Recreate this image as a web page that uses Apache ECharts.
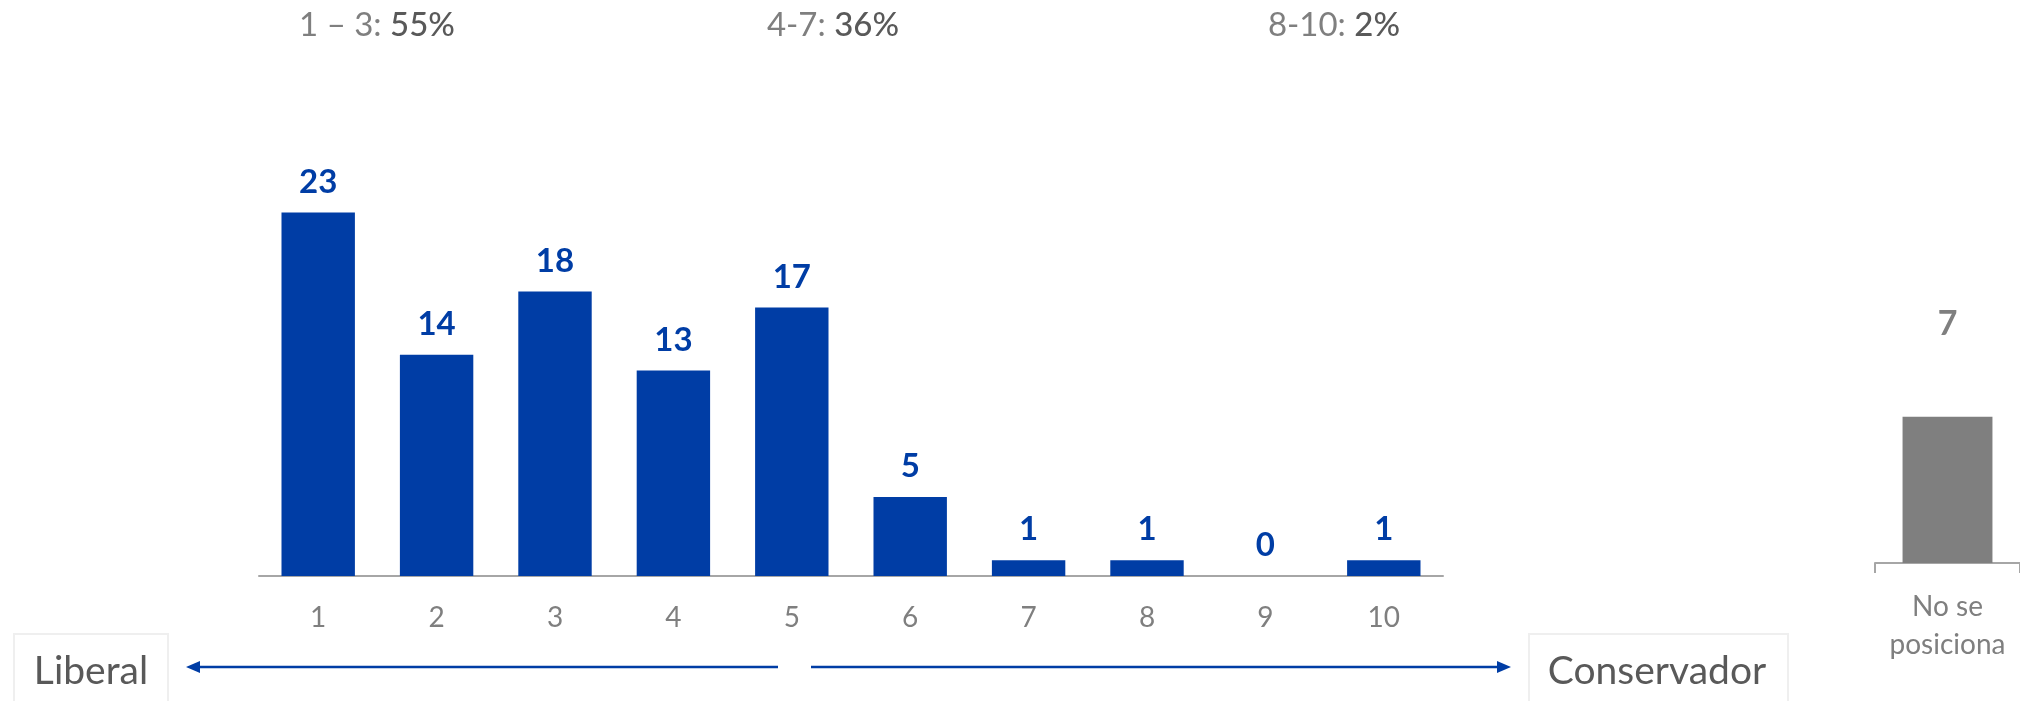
<!DOCTYPE html>
<html>
<head>
<meta charset="utf-8">
<script src="https://cdn.jsdelivr.net/npm/echarts@6/dist/echarts.min.js"></script>
<style>
html,body{margin:0;padding:0;background:#fff;}
#c{width:2020px;height:701px;}
</style>
</head>
<body>
<div id="c"></div>
<script>
// ---- data ----
const scaleCategories = ['1','2','3','4','5','6','7','8','9','10'];
const scaleValues = [23, 14, 18, 13, 17, 5, 1, 1, 0, 1];
const noPosCategories = ['No se\nposiciona'];
const noPosValues = [7];
const groupLabels = ['1 – 3: ', '4-7: ', '8-10: '];
const groupPercents = ['55%', '36%', '2%'];
const leftEndLabel = 'Liberal';
const rightEndLabel = 'Conservador';

const FONT = 'Lato, "Open Sans", sans-serif';
const BLUE = '#003DA5';
const GREY = '#7F7F7F';
const DARK = '#595959';

const chart = echarts.init(document.getElementById('c'), null, {renderer: 'canvas'});

const groupX = [377, 833, 1334];
const topTexts = groupLabels.map((g, i) => ({
  type: 'text',
  x: groupX[i], y: 25,
  style: {
    text: '{a|' + g + '}{b|' + groupPercents[i] + '}',
    align: 'center', verticalAlign: 'middle',
    rich: {
      a: {fontFamily: FONT, fontSize: 33, fill: GREY},
      b: {fontFamily: FONT, fontSize: 33, fill: DARK, fontWeight: 500}
    }
  }
}));

const arrowY = 667;
const graphics = topTexts.concat([
  // left arrow
  {type: 'line', shape: {x1: 778, y1: arrowY, x2: 196, y2: arrowY}, style: {stroke: BLUE, lineWidth: 2.5}},
  {type: 'polygon', shape: {points: [[186, arrowY], [200, arrowY - 6], [200, arrowY + 6]]}, style: {fill: BLUE}},
  // right arrow
  {type: 'line', shape: {x1: 811, y1: arrowY, x2: 1500, y2: arrowY}, style: {stroke: BLUE, lineWidth: 2.5}},
  {type: 'polygon', shape: {points: [[1511, arrowY], [1497, arrowY - 6], [1497, arrowY + 6]]}, style: {fill: BLUE}},
  // end boxes
  {type: 'rect', shape: {x: 14, y: 634, width: 154, height: 80}, style: {fill: '#fff', stroke: '#EFEFEF', lineWidth: 2}},
  {type: 'text', x: 91, y: 671, style: {text: leftEndLabel, fontFamily: FONT, fontSize: 39, fill: DARK, align: 'center', verticalAlign: 'middle'}},
  {type: 'rect', shape: {x: 1529, y: 634, width: 259, height: 80}, style: {fill: '#fff', stroke: '#EFEFEF', lineWidth: 2}},
  {type: 'text', x: 1657, y: 671, style: {text: rightEndLabel, fontFamily: FONT, fontSize: 39, fill: DARK, align: 'center', verticalAlign: 'middle'}}
]);

const option = {
  backgroundColor: '#fff',
  animation: false,
  textStyle: {fontFamily: FONT},
  grid: [
    {left: 259, width: 1184, top: 102, height: 474, containLabel: false},
    {left: 1875, width: 146, top: 354, height: 209, containLabel: false}
  ],
  xAxis: [
    {
      type: 'category', gridIndex: 0, data: scaleCategories,
      axisLine: {show: true, lineStyle: {color: '#A6A6A6', width: 2}},
      axisTick: {show: false},
      axisLabel: {color: GREY, fontSize: 28, fontFamily: FONT, margin: 28}
    },
    {
      type: 'category', gridIndex: 1, data: noPosCategories,
      axisLine: {show: true, lineStyle: {color: '#A6A6A6', width: 2}},
      axisTick: {show: true, length: 10, lineStyle: {color: '#A6A6A6', width: 2}},
      axisLabel: {color: GREY, fontSize: 28, lineHeight: 38, fontFamily: FONT, margin: 25}
    }
  ],
  yAxis: [
    {type: 'value', gridIndex: 0, min: 0, max: 30, show: false, splitLine: {show: false}},
    {type: 'value', gridIndex: 1, min: 0, max: 10, show: false, splitLine: {show: false}}
  ],
  series: [
    {
      type: 'bar', xAxisIndex: 0, yAxisIndex: 0, data: scaleValues,
      barWidth: '62%',
      itemStyle: {color: BLUE},
      label: {show: true, position: 'top', distance: 14, color: BLUE, fontSize: 33, fontWeight: 'bold', fontFamily: FONT}
    },
    {
      type: 'bar', xAxisIndex: 1, yAxisIndex: 1, data: noPosValues,
      barWidth: '62%',
      itemStyle: {color: GREY},
      label: {show: true, position: 'top', distance: 76, color: GREY, fontSize: 34, fontWeight: 'bold', fontFamily: FONT}
    }
  ],
  graphic: graphics
};
chart.setOption(option);
</script>
</body>
</html>
